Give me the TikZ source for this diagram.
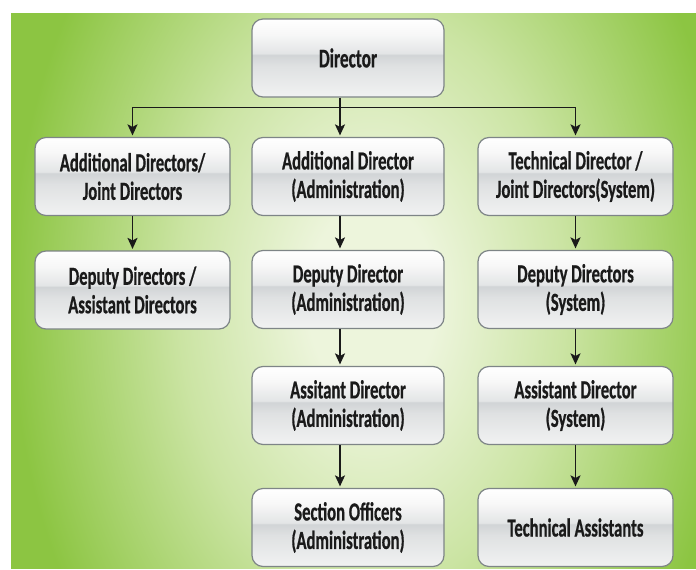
\documentclass[tikz,border=0pt]{standalone}
\usepackage{fontspec}
\setmainfont[FakeStretch=0.64, BoldFeatures={FakeBold=0.6}]{Carlito}
\usetikzlibrary{arrows.meta}

\definecolor{bgc}{HTML}{EDF5DC}
\definecolor{bgm}{HTML}{CBE4A3}
\definecolor{bge}{HTML}{8CC542}
\definecolor{gla}{HTML}{F1F2F2}
\definecolor{glb}{HTML}{DFE1E2}
\definecolor{glc}{HTML}{D1D4D6}
\definecolor{gld}{HTML}{E3E5E6}
\definecolor{gle}{HTML}{F7F7F7}
\definecolor{boxedge}{HTML}{7E8587}
\definecolor{ink}{HTML}{1A1A1A}

% soft green glow behind the chart
\pgfdeclareradialshading{greenglow}{\pgfpoint{0bp}{0bp}}{%
  color(0bp)=(bgc); color(4bp)=(bgc); color(12bp)=(bgm);
  color(22.5bp)=(bge); color(50bp)=(bge)}

% glossy fill of the boxes (bottom to top)
\pgfdeclareverticalshading{glossy}{100bp}{%
  color(0bp)=(gla); color(25bp)=(gla); color(45bp)=(glb);
  color(52bp)=(glc); color(53bp)=(gld); color(65bp)=(gle);
  color(75bp)=(white); color(100bp)=(white)}

\tikzset{
  post/.style={draw=boxedge, line width=1.2pt, rounded corners=11pt,
    shading=glossy, minimum height=78pt, inner sep=0pt, align=center,
    text=ink, font=\bfseries\fontsize{26}{28.5}\selectfont},
  widebox/.style={post, minimum width=195pt},
  narrowbox/.style={post, minimum width=192pt},
  link/.style={draw=ink, line width=1.5pt},
  arrow/.style={link, -{Stealth[length=11pt,width=10pt,inset=2.5pt]}, shorten >=1.5pt}
}

\begin{document}
\begin{tikzpicture}[x=1pt, y=-1pt]
\useasboundingbox (0,0) rectangle (696,570);

% background panel
\begin{scope}
  \clip (11,13) rectangle (696,568);
  \shade[shading=greenglow] (-30,-300) rectangle (774,900);
\end{scope}

% top
\node[narrowbox, font=\bfseries\fontsize{27}{30}\selectfont] (dir) at (348,58) {Director};

% left column
\node[widebox] (l2) at (132.5,176.5) {Additional Directors/\\Joint Directors};
\node[widebox] (l3) at (132.5,290) {Deputy Directors /\\Assistant Directors};

% middle column
\node[narrowbox] (c2) at (348,176.5) {Additional Director\\(Administration)};
\node[narrowbox] (c3) at (348,289.5) {Deputy Director\\(Administration)};
\node[narrowbox] (c4) at (348,405.5) {Assitant Director\\(Administration)};
\node[narrowbox] (c5) at (348,527.5) {Section Officers\\(Administration)};

% right column
\node[widebox] (r2) at (575.5,176.5) {Technical Director /\\Joint Directors(System)};
\node[widebox] (r3) at (575.5,289.5) {Deputy Directors\\(System)};
\node[widebox] (r4) at (575.5,405.5) {Assistant Director\\(System)};
\node[widebox] (r5) at (575.5,527.5) {Technical Assistants};

% branch from the director
\coordinate (bus) at ([xshift=-8pt,yshift=-10pt]dir.south);
\draw[link] ([xshift=-8pt]dir.south) -- (bus);
\draw[arrow] (bus) -| (l2.north);
\draw[arrow] (bus) -| (r2.north);
\draw[arrow] (bus) -- ([xshift=-8pt]c2.north);

% chains down each column
\draw[arrow] (l2.south) -- (l3.north);
\draw[arrow] ([xshift=-8pt]c2.south) -- ([xshift=-8pt]c3.north);
\draw[arrow] ([xshift=-8pt]c3.south) -- ([xshift=-8pt]c4.north);
\draw[arrow] ([xshift=-8pt]c4.south) -- ([xshift=-8pt]c5.north);
\draw[arrow] (r2.south) -- (r3.north);
\draw[arrow] (r3.south) -- (r4.north);
\draw[arrow] (r4.south) -- (r5.north);
\end{tikzpicture}
\end{document}
